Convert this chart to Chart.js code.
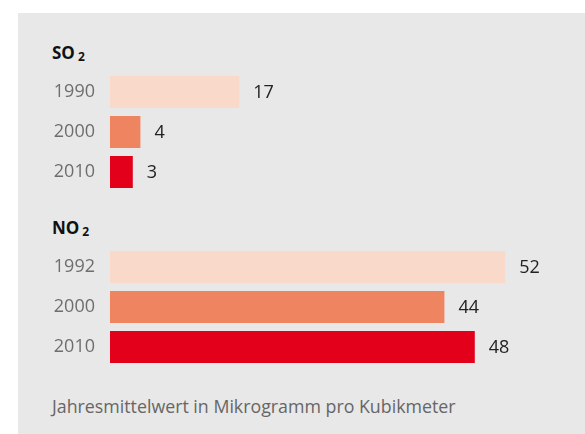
<!DOCTYPE html>
<html>
<head>
<meta charset="utf-8">
<script src="https://cdn.jsdelivr.net/npm/chart.js@4/dist/chart.umd.min.js"></script>
<style>
  html, body { margin: 0; padding: 0; background: #fff; }
  body { width: 585px; height: 434px; position: relative; overflow: hidden; font-family: "Open Sans", sans-serif; }
  .panel { position: absolute; left: 18px; top: 13px; width: 567px; height: 421px; background: #e8e8e8; }
  .head { position: absolute; left: 52px; font-weight: 700; font-size: 17px; color: #111; line-height: 20px; }
  .head sub { font-size: 12px; vertical-align: -2px; margin-left: 3px; }
  .note { position: absolute; left: 52px; top: 395px; font-size: 17.8px; color: #666; line-height: 22px; }
  canvas { position: absolute; left: 40px; }
</style>
</head>
<body>
<div class="panel"></div>
<div class="head" style="top:43px">SO<sub>2</sub></div>
<div class="head" style="top:218px">NO<sub>2</sub></div>
<canvas id="so2Chart" width="545" height="120" style="top:72px"></canvas>
<canvas id="no2Chart" width="545" height="120" style="top:247px"></canvas>
<div class="note">Jahresmittelwert in Mikrogramm pro Kubikmeter</div>

<script>
// Jahresmittelwerte (µg/m³)
const so2Years = ['1990', '2000', '2010'];
const so2Values = [17, 4, 3];
const no2Years = ['1992', '2000', '2010'];
const no2Values = [52, 44, 48];
const barColors = ['#f9d9ca', '#ef8460', '#e2001a'];
const axisMax = 62.5;

// draw value next to each bar end
const valueLabels = {
    id: 'valueLabels',
    afterDatasetsDraw(chart) {
        const ctx = chart.ctx;
        const meta = chart.getDatasetMeta(0);
        ctx.save();
        ctx.font = '18px "Open Sans", sans-serif';
        ctx.fillStyle = '#222';
        ctx.textBaseline = 'middle';
        meta.data.forEach((bar, i) => {
            ctx.fillText(chart.data.datasets[0].data[i], bar.x + 14, bar.y + 1);
        });
        ctx.restore();
    }
};

function makeChart(id, years, values) {
    return new Chart(document.getElementById(id), {
        type: 'bar',
        data: {
            labels: years,
            datasets: [{
                data: values,
                backgroundColor: barColors,
                borderWidth: 0,
                categoryPercentage: 1,
                barPercentage: 0.8
            }]
        },
        options: {
            indexAxis: 'y',
            responsive: false,
            animation: false,
            layout: { padding: 0 },
            plugins: {
                legend: { display: false },
                tooltip: { enabled: false }
            },
            scales: {
                x: { display: false, min: 0, max: axisMax },
                y: {
                    grid: { display: false, drawTicks: false },
                    border: { display: false },
                    ticks: {
                        padding: 15,
                        color: '#6e6e6e',
                        font: { family: '"Open Sans", sans-serif', size: 18 }
                    },
                    afterFit(scale) {
                        scale.width = 70;
                        scale.paddingTop = 0;
                        scale.paddingBottom = 0;
                    }
                }
            }
        },
        plugins: [valueLabels]
    });
}

makeChart('so2Chart', so2Years, so2Values);
makeChart('no2Chart', no2Years, no2Values);
</script>
</body>
</html>
